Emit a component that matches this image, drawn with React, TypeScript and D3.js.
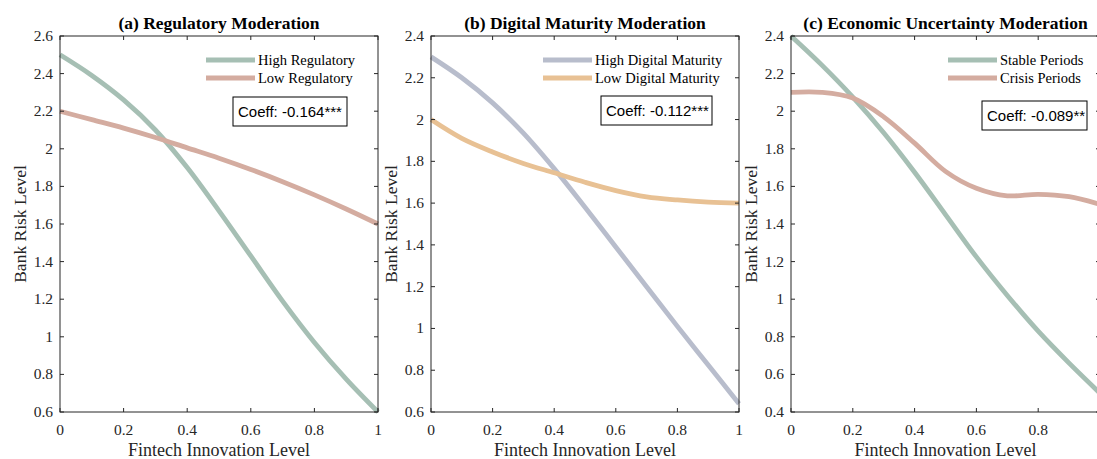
import React from 'react';
import * as d3 from 'd3';

// fintech innovation level sampled every 0.1
const fintechLevels = [0, 0.1, 0.2, 0.3, 0.4, 0.5, 0.6, 0.7, 0.8, 0.9, 1.0];

const highRegulatory = [2.5, 2.39, 2.26, 2.1, 1.9, 1.67, 1.43, 1.19, 0.97, 0.775, 0.6];
const lowRegulatory = [2.2, 2.155, 2.11, 2.06, 2.005, 1.95, 1.89, 1.825, 1.755, 1.68, 1.6];

const highDigital = [2.3, 2.2, 2.08, 1.935, 1.765, 1.58, 1.39, 1.2, 1.01, 0.825, 0.64];
const lowDigital = [2.0, 1.91, 1.845, 1.79, 1.745, 1.7, 1.66, 1.63, 1.615, 1.605, 1.6];

const stablePeriods = [2.4, 2.245, 2.075, 1.885, 1.675, 1.45, 1.225, 1.02, 0.83, 0.66, 0.5];
const crisisPeriods = [2.1, 2.1, 2.07, 1.97, 1.83, 1.68, 1.59, 1.55, 1.558, 1.545, 1.505];

const xTicks = [0, 0.2, 0.4, 0.6, 0.8, 1];
const yTicksA = [0.6, 0.8, 1, 1.2, 1.4, 1.6, 1.8, 2, 2.2, 2.4, 2.6];
const yTicksB = [0.6, 0.8, 1, 1.2, 1.4, 1.6, 1.8, 2, 2.2, 2.4];
const yTicksC = [0.4, 0.6, 0.8, 1, 1.2, 1.4, 1.6, 1.8, 2, 2.2, 2.4];

const SERIF = '"Liberation Serif", "Times New Roman", serif';
const SANS = '"Liberation Sans", Arial, sans-serif';
const AXIS = '#262626';

type Series = { name: string; values: number[]; color: string };

type PanelProps = {
  left: number;
  right: number;
  top: number;
  bottom: number;
  yDomain: [number, number];
  yTicks: number[];
  title: string;
  series: Series[];
  legendX: number;
  coeff: string;
  box: { x: number; y: number; w: number; h: number };
  showLastX: boolean;
};

function Panel(props: PanelProps) {
  const { left, right, top, bottom, yDomain, yTicks, title, series, legendX, coeff, box, showLastX } = props;
  const x = d3.scaleLinear().domain([0, 1]).range([left, right]);
  const y = d3.scaleLinear().domain(yDomain).range([bottom, top]);
  const line = d3
    .line<number>()
    .x((_, i) => x(fintechLevels[i]))
    .y((d) => y(d))
    .curve(d3.curveCatmullRom.alpha(0.5));
  const tl = 4;

  return (
    <g>
      <text x={(left + right) / 2} y={29} textAnchor="middle" fontFamily={SERIF} fontWeight="bold" fontSize={17.5} fill="#000">
        {title}
      </text>

      {series.map((s) => (
        <path key={s.name} d={line(s.values) || ''} fill="none" stroke={s.color} strokeWidth={4.8} />
      ))}

      <rect x={left} y={top} width={right - left} height={bottom - top} fill="none" stroke={AXIS} strokeWidth={1} />

      {xTicks.map((t) => (
        <g key={'x' + t}>
          <line x1={x(t)} x2={x(t)} y1={bottom} y2={bottom - tl} stroke={AXIS} />
          <line x1={x(t)} x2={x(t)} y1={top} y2={top + tl} stroke={AXIS} />
          {(t < 1 || showLastX) && (
            <text x={x(t)} y={bottom + 23} textAnchor="middle" fontFamily={SERIF} fontSize={15.5} fill={AXIS}>
              {d3.format('~g')(t)}
            </text>
          )}
        </g>
      ))}
      {yTicks.map((t) => (
        <g key={'y' + t}>
          <line x1={left} x2={left + tl} y1={y(t)} y2={y(t)} stroke={AXIS} />
          <line x1={right} x2={right - tl} y1={y(t)} y2={y(t)} stroke={AXIS} />
          <text x={left - 7} y={y(t) + 5} textAnchor="end" fontFamily={SERIF} fontSize={15.5} fill={AXIS}>
            {d3.format('~g')(t)}
          </text>
        </g>
      ))}

      <text x={(left + right) / 2} y={bottom + 44} textAnchor="middle" fontFamily={SERIF} fontSize={18} fill={AXIS}>
        Fintech Innovation Level
      </text>
      <text
        transform={`translate(${left - 34},${(top + bottom) / 2}) rotate(-90)`}
        textAnchor="middle"
        fontFamily={SERIF}
        fontSize={17.5}
        fill={AXIS}
      >
        Bank Risk Level
      </text>

      {series.map((s, i) => (
        <g key={'lg' + s.name}>
          <line x1={legendX} x2={legendX + 49} y1={60 + i * 18} y2={60 + i * 18} stroke={s.color} strokeWidth={4.8} />
          <text x={legendX + 52} y={65 + i * 18} fontFamily={SERIF} fontSize={14.5} fill="#000">
            {s.name}
          </text>
        </g>
      ))}

      <rect x={box.x} y={box.y} width={box.w} height={box.h} fill="#fff" stroke="#000" strokeWidth={1} />
      <text x={box.x + 5} y={box.y + box.h / 2 + 5.5} fontFamily={SANS} fontSize={15} fill="#000">
        {coeff}
      </text>
    </g>
  );
}

export default function App() {
  return (
    <svg width={1097} height={459} style={{ position: 'absolute', left: 0, top: 0, background: '#fff' }}>
      <rect width={1097} height={459} fill="#fff" />
      <Panel
        left={60}
        right={378}
        top={36}
        bottom={412}
        yDomain={[0.6, 2.6]}
        yTicks={yTicksA}
        title="(a) Regulatory Moderation"
        series={[
          { name: 'High Regulatory', values: highRegulatory, color: '#a6bfb4' },
          { name: 'Low Regulatory', values: lowRegulatory, color: '#d4aca0' },
        ]}
        legendX={206}
        coeff="Coeff: -0.164***"
        box={{ x: 233, y: 97, w: 114, h: 29 }}
        showLastX={true}
      />
      <Panel
        left={431}
        right={739}
        top={36}
        bottom={412}
        yDomain={[0.6, 2.4]}
        yTicks={yTicksB}
        title="(b) Digital Maturity Moderation"
        series={[
          { name: 'High Digital Maturity', values: highDigital, color: '#b8bdcc' },
          { name: 'Low Digital Maturity', values: lowDigital, color: '#e8c194' },
        ]}
        legendX={543}
        coeff="Coeff: -0.112***"
        box={{ x: 601, y: 96, w: 111, h: 29 }}
        showLastX={true}
      />
      <Panel
        left={791}
        right={1100}
        top={36}
        bottom={412}
        yDomain={[0.4, 2.4]}
        yTicks={yTicksC}
        title="(c) Economic Uncertainty Moderation"
        series={[
          { name: 'Stable Periods', values: stablePeriods, color: '#a6bfb4' },
          { name: 'Crisis Periods', values: crisisPeriods, color: '#d4aca0' },
        ]}
        legendX={948}
        coeff="Coeff: -0.089**"
        box={{ x: 982, y: 101, w: 105, h: 29 }}
        showLastX={false}
      />
    </svg>
  );
}
